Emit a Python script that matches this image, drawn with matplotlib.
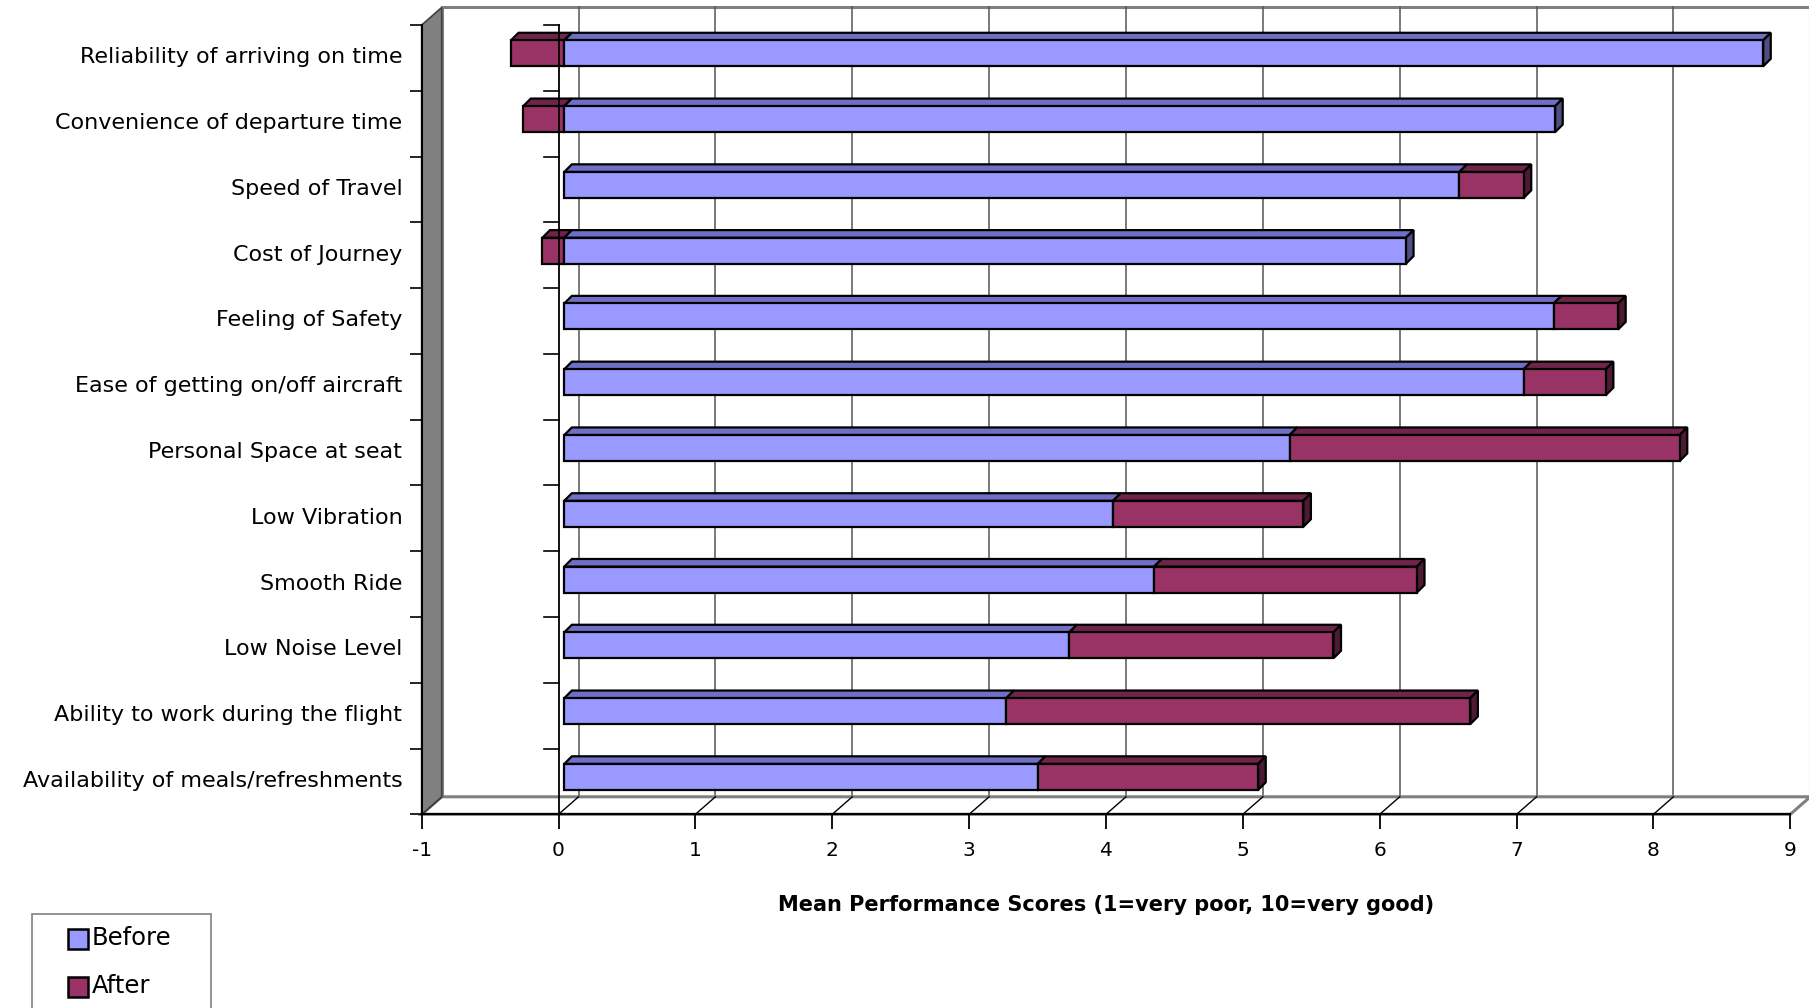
import numpy as np
import matplotlib
matplotlib.use("Agg")
import matplotlib.pyplot as plt
from matplotlib.patches import Rectangle, Polygon
from matplotlib.transforms import ScaledTranslation

categories = [
    "Reliability of arriving on time",
    "Convenience of departure time",
    "Speed of Travel",
    "Cost of Journey",
    "Feeling of Safety",
    "Ease of getting on/off aircraft",
    "Personal Space at seat",
    "Low Vibration",
    "Smooth Ride",
    "Low Noise Level",
    "Ability to work during the flight",
    "Availability of meals/refreshments",
]
before = [8.76, 7.24, 6.54, 6.15, 7.23, 7.01, 5.30, 4.01, 4.31, 3.69, 3.23, 3.46]
after = [-0.39, -0.30, 0.47, -0.16, 0.47, 0.60, 2.85, 1.39, 1.92, 1.93, 3.39, 1.61]
xticks = list(range(-1, 10))
xlabel = "Mean Performance Scores (1=very poor, 10=very good)"
series_names = ["Before", "After"]

BEFORE_C = ("#9999FF", "#6F6FC6", "#4F4F82")
AFTER_C = ("#993366", "#70244A", "#4C1A33")
GREY = "#808080"

W, H = 1809, 1008
fig = plt.figure(figsize=(W / 100, H / 100), dpi=100)
ax_l, ax_r, ax_t, ax_b = 421.7, 1790.3, 25.0, 814.3
ax = fig.add_axes([ax_l / W, (H - ax_b) / H, (ax_r - ax_l) / W, (ax_b - ax_t) / H])

n = len(categories)
xmin, xmax = xticks[0], xticks[-1]
ax.set_xlim(xmin, xmax)
ax.set_ylim(-0.5, n - 0.5)
ppx = (ax_r - ax_l) / (xmax - xmin)   # pixels per x unit
ppy = (ax_b - ax_t) / n                # pixels per category

# wall depth and bar geometry (pixels -> data units)
dxw, dyw = 20 / ppx, 17.5 / ppy
fx, fy = 5.7 / ppx, 4.5 / ppy
bh = 26 / ppy
dx, dy = 7.6 / ppx, 7.6 / ppy

ylo, yhi = -0.5, n - 0.5

# back wall
ax.add_patch(Rectangle((xmin + dxw, ylo + dyw), xmax - xmin, yhi - ylo, fc="white",
                       ec=GREY, lw=2.2, clip_on=False, zorder=0))
for k in xticks[1:-1]:
    ax.plot([k + dxw, k + dxw], [ylo + dyw, yhi + dyw], color="#555555", lw=1.1,
            clip_on=False, zorder=0.5)
# floor
ax.add_patch(Polygon([(xmin, ylo), (xmax, ylo), (xmax + dxw, ylo + dyw), (xmin + dxw, ylo + dyw)],
                     closed=True, fc="white", ec=GREY, lw=2.2, clip_on=False, zorder=0.6))
for k in xticks[:-1]:
    ax.plot([k, k + dxw], [ylo, ylo + dyw], color="black", lw=1, clip_on=False, zorder=0.7)
# side wall
ax.add_patch(Polygon([(xmin, ylo), (xmin, yhi), (xmin + dxw, yhi + dyw), (xmin + dxw, ylo + dyw)],
                     closed=True, fc=GREY, ec="#404040", lw=1.2, clip_on=False, zorder=0.8))
ax.plot([xmin, xmin], [ylo, yhi], color="black", lw=1.5, clip_on=False, zorder=0.9)


def draw_box(x0, w, yc, cols, side):
    face, top, sidec = cols
    xa, xb = sorted([x0 + fx, x0 + w + fx])
    yb = yc + fy - bh / 2
    yt = yb + bh
    ax.add_patch(Rectangle((xa, yb), xb - xa, bh, fc=face, ec="black", lw=1.6, zorder=3))
    ax.add_patch(Polygon([(xa, yt), (xb, yt), (xb + dx, yt + dy), (xa + dx, yt + dy)],
                         closed=True, fc=top, ec="black", lw=1.6, zorder=2.9))
    if side:
        ax.add_patch(Polygon([(xb, yb), (xb, yt), (xb + dx, yt + dy), (xb + dx, yb + dy)],
                             closed=True, fc=sidec, ec="black", lw=1.6, zorder=2.9))


ypos = np.arange(n)[::-1]
for y, b, a in zip(ypos, before, after):
    if a < 0:
        draw_box(0, a, y, AFTER_C, False)
        draw_box(0, b, y, BEFORE_C, True)
    else:
        draw_box(0, b, y, BEFORE_C, False)
        draw_box(b, a, y, AFTER_C, True)

# axis line at zero with its tick marks
ax.plot([0, 0], [ylo, yhi], color="black", lw=1.3, zorder=4, clip_on=False)
for yb in np.arange(ylo, yhi + 0.01, 1.0):
    ax.plot([0 - 15 / ppx, 0], [yb, yb], color="black", lw=1.2, zorder=4, clip_on=False)

for s in ["top", "right", "left"]:
    ax.spines[s].set_visible(False)
ax.spines["bottom"].set_linewidth(1.5)
ax.spines["bottom"].set_zorder(1)
ax.patch.set_visible(False)

ax.set_xticks(xticks)
ax.set_xticklabels([str(t) for t in xticks], fontsize=14.5)
ax.tick_params(axis="x", direction="out", length=11, width=1.3, pad=8, colors="black")

ax.set_yticks(ypos)
ax.set_yticklabels(categories, fontsize=16)
ax.set_yticks(np.arange(ylo, yhi + 0.01, 1.0), minor=True)
ax.tick_params(axis="y", which="major", length=0, pad=14)
ax.tick_params(axis="y", which="minor", direction="out", length=9, width=1.2)
shift = ScaledTranslation(0, 2.5 / 100, fig.dpi_scale_trans)
for lbl in ax.get_yticklabels():
    lbl.set_transform(lbl.get_transform() + shift)

fig.text(1106 / W, (H - 904.6) / H, xlabel, ha="center", va="center",
         fontsize=15, fontweight="bold")

# legend (partly cut off at the bottom edge)
fig.patches.append(Rectangle((31.7 / W, -0.02), 179 / W, (H - 914.3) / H + 0.02,
                             transform=fig.transFigure, fc="white", ec=GREY, lw=1.2))
for name, cols, ytop in zip(series_names, [BEFORE_C, AFTER_C], [929, 976.7]):
    fig.patches.append(Rectangle((68.3 / W, (H - ytop - 20) / H), 20 / W, 20 / H,
                                 transform=fig.transFigure, fc=cols[0], ec="black", lw=1.8))
    fig.text(92 / W, (H - ytop - 9) / H, name, ha="left", va="center", fontsize=17.5)

fig.savefig("out.png", dpi=100)
